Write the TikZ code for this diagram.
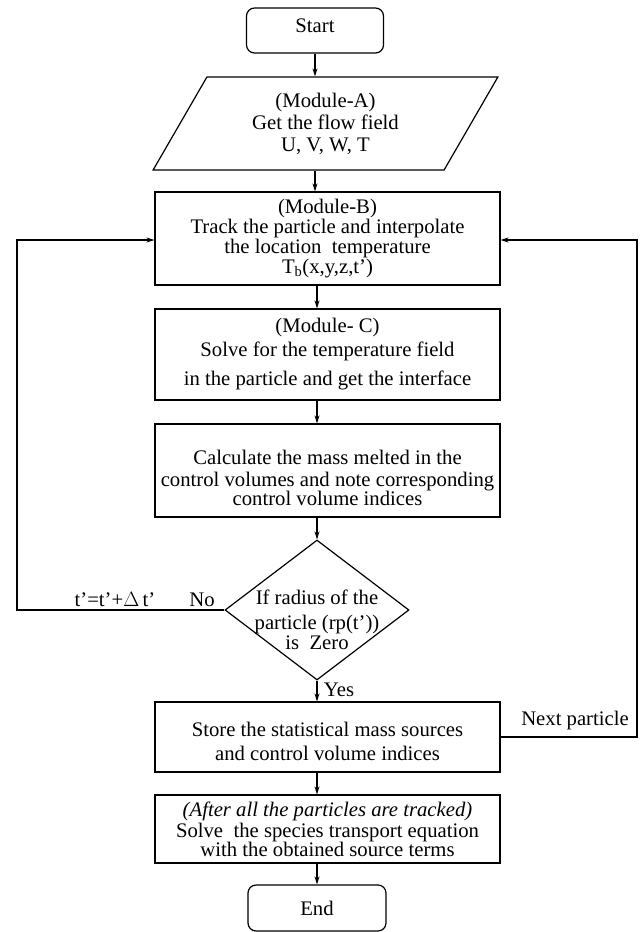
\documentclass[tikz,border=0pt]{standalone}
\usepackage{fontspec}
\setmainfont{Liberation Serif}
\usepackage{tikz}
\usetikzlibrary{shapes.geometric,arrows.meta}

\begin{document}
\begin{tikzpicture}[x=1pt, y=-1pt, line width=1.2pt, >={Stealth[length=8pt,width=5pt]},
  font=\fontsize{20.7}{22}\selectfont]
\useasboundingbox (0,0) rectangle (640,932);

\node (start) [rectangle, rounded corners=8pt, draw, minimum width=137pt, minimum height=45pt] at (315,30.5) {Start\rule[-10pt]{0pt}{0pt}};
\node (getflow) [trapezium, trapezium left angle=63, trapezium right angle=117, trapezium stretches=true, draw, minimum width=345pt, minimum height=93pt, align=center] at (325.5,123.5) {(Module-A)\\ Get the flow field\\ U, V, W, T};
\node (track) [rectangle, draw, minimum width=345pt, minimum height=93pt, inner xsep=2pt, align=center] at (327.5,238.5) {(Module-B)\\[-2pt] Track the particle and interpolate\\[-2pt] the location \ temperature\\[-2pt] T\textsubscript{b}(x,y,z,t')};
\node (solve) [rectangle, draw, minimum width=345pt, minimum height=91pt, inner xsep=2pt, align=center] at (327.5,354.5) {(Module- C)\\[2pt] Solve for the temperature field\\[7pt] in the particle and get the interface};
\node (calc) [rectangle, draw, minimum width=345pt, minimum height=93pt, inner xsep=2pt, align=center] at (327.5,470.5) {\rule{0pt}{30pt}Calculate the mass melted in the\\[0pt] control volumes and note corresponding\\[-3pt] control volume indices};
\node (dec) [diamond, draw, minimum width=184pt, minimum height=140pt, inner sep=-30pt, align=center] at (317,610) {\rule{0pt}{34pt}If radius of the\\[3pt] particle (rp(t'))\\[-2pt] is \ Zero};
\node (store) [rectangle, draw, minimum width=345pt, minimum height=70pt, inner xsep=2pt, align=center] at (327.5,737) {\rule{0pt}{24pt}Store the statistical mass sources\\[2pt] and control volume indices};
\node (species) [rectangle, draw, minimum width=345pt, minimum height=68pt, inner xsep=2pt, align=center] at (327.5,829) {\textit{(After all the particles are tracked)}\\[-1pt] Solve \ the species transport equation\\[-3pt] with the obtained source terms};
\node (end) [rectangle, rounded corners=8pt, draw, minimum width=138pt, minimum height=46pt] at (317,908) {End};

\coordinate (lcorner) at (17,240);
\coordinate (rcorner) at (637,240);

\draw[->] (start) -- (start |- getflow.north);
\draw[->] (start |- getflow.south) -- (start |- track.north);
\draw[->] (dec |- track.south) -- (dec |- solve.north);
\draw[->] (dec |- solve.south) -- (dec |- calc.north);
\draw[->] (dec |- calc.south) -- (dec.north);
\draw[->] (dec.south) -- (dec |- store.north);
\draw[->] (dec |- store.south) -- (dec |- species.north);
\draw[->] (dec |- species.south) -- (end.north);

\draw[->] (dec.west) -| (lcorner) -- (lcorner -| track.west);
\draw[->] (store.east) -| (rcorner) -- (rcorner -| track.east);

\node (tstep) at (115,600) {t'=t'+$\Delta$\,t'};
\node (no) at (202,600) {No};
\node (yes) at (339,690) {Yes};
\node (next) at (575,721) {Next particle};
\end{tikzpicture}
\end{document}
